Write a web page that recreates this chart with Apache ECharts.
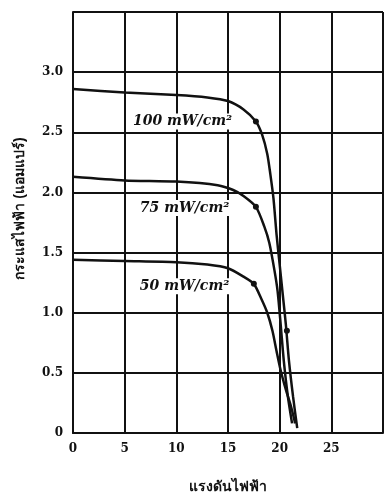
<!DOCTYPE html>
<html><head><meta charset="utf-8">
<script src="https://cdn.jsdelivr.net/npm/echarts@6/dist/echarts.min.js"></script>
<style>html,body{margin:0;padding:0;background:#fff}#c{width:385px;height:495px}</style>
</head><body><div id="c"></div>
<script>
// Data (voltage V, current A)
const curve100 = [[0,2.86],[5,2.83],[10,2.81],[13,2.79],[15,2.76],[16.5,2.69],[17.7,2.59],[18.3,2.48],[18.8,2.32],[19.1,2.15],[19.4,1.95],[19.7,1.65],[20.0,1.4],[20.3,1.15],[20.6,0.9],[20.9,0.6],[21.3,0.3],[21.7,0.04]];
const curve75 = [[0,2.13],[5,2.10],[10,2.09],[14,2.06],[15.5,2.02],[16.5,1.97],[17.7,1.88],[18.5,1.72],[19.0,1.58],[19.5,1.35],[19.8,1.18],[20.1,0.9],[20.4,0.6],[20.8,0.3],[21.2,0.08]];
const curve50 = [[0,1.44],[5,1.43],[10,1.42],[13,1.40],[15,1.37],[16.5,1.30],[17.5,1.24],[18.2,1.12],[18.8,1.0],[19.3,0.85],[19.7,0.68],[20.1,0.52],[20.6,0.36],[21.1,0.22],[21.5,0.08]];
const markers100 = [[17.7,2.59],[20.7,0.85]];
const markers75 = [[17.7,1.88]];
const markers50 = [[17.5,1.24]];
const curveNames = ['100 mW/cm²','75 mW/cm²','50 mW/cm²'];
const xTicks = ['0','5','10','15','20','25'];
const yTicks = ['0','0.5','1.0','1.5','2.0','2.5','3.0'];
const xName = 'แรงดันไฟฟ้า';
const yName = 'กระแสไฟฟ้า (แอมแปร์)';

// label anchor positions (layout)
const labelPos = [[10.6,2.59],[10.8,1.87],[10.8,1.22]];

const ink = '#111';
const font = '"DejaVu Serif", "Liberation Serif", serif';
const chart = echarts.init(document.getElementById('c'));
function lineSeries(d){
  return {type:'line',data:d,smooth:0.25,showSymbol:false,lineStyle:{color:ink,width:2.5},z:5,silent:true};
}
function dotSeries(d){
  return {type:'scatter',data:d,symbol:'circle',symbolSize:6,itemStyle:{color:ink,opacity:1},z:6,silent:true};
}
chart.setOption({
  animation:false,
  backgroundColor:'#fff',
  grid:{left:73,right:2,top:12,bottom:62,outerBoundsMode:'none',containLabel:false},
  xAxis:{type:'value',min:0,max:30,interval:5,
    axisLine:{show:true,lineStyle:{color:ink,width:2}},
    axisTick:{show:false},
    splitLine:{show:true,lineStyle:{color:ink,width:2}},
    axisLabel:{color:ink,fontFamily:font,fontWeight:'bold',fontSize:12,margin:10,
      formatter:v=>{const i=v/5;return i<xTicks.length?xTicks[i]:'';}},
    name:xName,nameLocation:'middle',nameGap:47,
    nameTextStyle:{color:ink,fontSize:14,fontWeight:'bold'}},
  yAxis:{type:'value',min:0,max:3.5,interval:0.5,
    axisLine:{show:true,lineStyle:{color:ink,width:2}},
    axisTick:{show:false},
    splitLine:{show:true,lineStyle:{color:ink,width:2}},
    axisLabel:{color:ink,fontFamily:font,fontWeight:'bold',fontSize:12,margin:10,
      formatter:v=>{const i=Math.round(v/0.5);return i<yTicks.length?yTicks[i]:'';}},
    name:yName,nameLocation:'middle',nameGap:46,nameRotate:90,
    nameTextStyle:{color:ink,fontSize:14,fontWeight:'bold',padding:[0,0,0,28]}},
  series:[
    lineSeries(curve100),lineSeries(curve75),lineSeries(curve50),
    dotSeries(markers100),dotSeries(markers75),dotSeries(markers50),
    {type:'scatter',symbolSize:0,silent:true,z:7,itemStyle:{opacity:1},
      data:labelPos.map((p,i)=>({value:p,name:curveNames[i]})),
      label:{show:true,position:'inside',formatter:p=>p.name,color:ink,opacity:1,
        fontFamily:font,fontStyle:'italic',fontWeight:'bold',fontSize:14,
        backgroundColor:'#fff',padding:[1,2]}}
  ]
});
</script></body></html>
